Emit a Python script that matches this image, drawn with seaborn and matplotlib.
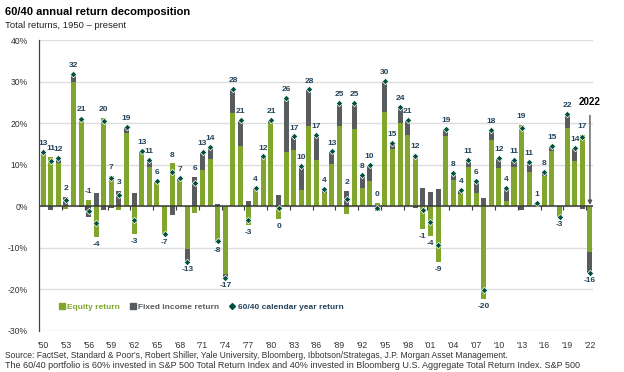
import numpy as np
import pandas as pd
import matplotlib.pyplot as plt
import seaborn as sns
from matplotlib.patches import Patch
from matplotlib.lines import Line2D

# Data (contribution to the 60/40 return, %)
years = list(range(1950, 2023))
equity = [12.8, 11.9, 10.5, -0.6, 30.0, 21.2, 1.5, -7.3, 21.2, 7.2,
          -1.0, 17.7, -6.6, 12.9, 9.4, 5.8, -6.8, 10.3, 6.2, -10.2,
          -1.5, 8.7, 11.4, -8.8, -16.3, 22.4, 14.4, -4.4, 4.0, 11.4,
          20.0, -3.0, 13.1, 13.5, 3.9, 19.2, 11.1, 3.2, 10.1, 19.2,
          -1.9, 18.5, 4.5, 6.1, 0.8, 22.8, 13.8, 20.0, 17.2, 12.3,
          -5.5, -7.2, -13.3, 17.0, 6.3, 3.0, 9.5, 3.3, -22.2, 15.9,
          9.1, 1.3, 9.5, 19.6, 8.3, 0.6, 7.2, 13.2, -2.6, 18.8,
          11.0, 17.2, -10.9]
fixed_income = [0.3, -1.0, 1.1, 2.2, 1.9, -0.2, -2.6, 3.3, -0.8, -0.3,
                3.7, 1.4, 3.2, 0.4, 1.7, 0.2, 0.1, -2.0, 0.6, -3.1,
                7.0, 4.4, 2.8, 0.5, -0.9, 5.8, 6.4, 1.2, 0.5, 0.6,
                0.8, 2.7, 12.9, 3.3, 5.9, 8.9, 6.1, 1.0, 3.1, 5.7,
                3.6, 6.4, 3.1, 3.9, -1.2, 7.3, 1.4, 3.8, 3.5, -0.3,
                4.5, 3.4, 4.1, 1.6, 1.7, 1.0, 1.7, 2.8, 2.1, 2.4,
                2.6, 3.1, 1.7, -0.8, 2.4, 0.2, 1.1, 1.4, 0.0, 3.5,
                3.0, -0.6, -5.2]
labels = [13, 11, 12, 2, 32, 21, -1, -4, 20, 7,
          3, 19, -3, 13, 11, 6, -7, 8, 7, -13,
          6, 13, 14, -8, -17, 28, 21, -3, 4, 12,
          21, 0, 26, 17, 10, 28, 17, 4, 13, 25,
          2, 25, 8, 10, 0, 30, 15, 24, 21, 12,
          -1, -4, -9, 19, 8, 4, 11, 6, -20, 18,
          12, 4, 11, 19, 11, 1, 8, 15, -3, 22,
          14, 17, -16]

green = '#80a62e'
gray = '#595c5f'
dkgreen = '#00513d'
label_col = '#24435a'

df = pd.DataFrame({'year': years, 'equity': equity, 'fixed': fixed_income, 'label': labels})
df['total'] = df['equity'] + df['fixed']
same = np.sign(df['equity']) == np.sign(df['fixed'])
# gray bar drawn from 0 (green covers the lower part when signs agree)
df['fixed_top'] = np.where(same, df['total'], df['fixed'])
df['top'] = df['equity'].clip(lower=0) + df['fixed'].clip(lower=0)
df['bottom'] = df['equity'].clip(upper=0) + df['fixed'].clip(upper=0)

sns.set_theme(style='white')
plt.rcParams['font.family'] = ['Liberation Sans', 'DejaVu Sans']

fig = plt.figure(figsize=(6.24, 3.72), dpi=100)
ax = fig.add_axes([39 / 624, 1 - 331 / 372, 554 / 624, 291 / 372])

sns.barplot(data=df, x='year', y='fixed_top', native_scale=True, color=gray,
            saturation=1, width=0.66, linewidth=0, errorbar=None, ax=ax, zorder=2)
sns.barplot(data=df, x='year', y='equity', native_scale=True, color=green,
            saturation=1, width=0.66, linewidth=0, errorbar=None, ax=ax, zorder=3)
sns.scatterplot(data=df, x='year', y='total', marker='D', s=11, color=dkgreen,
                edgecolor='white', linewidth=0.5, ax=ax, zorder=5, legend=False)

for _, r in df.iterrows():
    txt = str(int(r['label']))
    if r['total'] > 0 or r['equity'] > 0:
        ax.annotate(txt, (r['year'], r['top']), xytext=(0, 3.5),
                    textcoords='offset points', ha='center', va='bottom',
                    fontsize=6, fontweight='bold', color=label_col, zorder=6)
    else:
        ax.annotate(txt, (r['year'], r['bottom']), xytext=(0, -3),
                    textcoords='offset points', ha='center', va='top',
                    fontsize=6, fontweight='bold', color=label_col, zorder=6)

ax.annotate('2022', xy=(2022, 0.3), xytext=(2022, 25.2), ha='center', va='center',
            fontsize=7, fontweight='bold', color='black',
            arrowprops=dict(arrowstyle='-|>', color='#555555', lw=1.0,
                            shrinkA=4, shrinkB=0, mutation_scale=6), zorder=6)

ax.axhline(0, color='#3a3a3a', lw=1.1, zorder=4)
tick_marks = [y + 0.5 for y in years[2::3]]
ax.vlines(tick_marks, -0.8, 0, color='#3a3a3a', lw=0.8, zorder=4)

ax.set_xlim(1949.47, 2022.4)
ax.set_ylim(-30, 40)
ax.set_yticks(range(-30, 41, 10))
ax.set_yticklabels([f'{v}%' for v in range(-30, 41, 10)], fontsize=6.2, color='#333333')
ax.set_xticks(years[::3])
ax.set_xticklabels([f"'{str(y)[2:]}" for y in years[::3]], fontsize=6.2, color='#333333')
ax.tick_params(axis='both', length=0)
ax.tick_params(axis='x', pad=7)
ax.tick_params(axis='y', pad=8)
ax.set_xlabel('')
ax.set_ylabel('')
ax.grid(axis='y', color='#dddddd', lw=1.0)
ax.set_axisbelow(True)
for s in ['top', 'right', 'bottom']:
    ax.spines[s].set_visible(False)
ax.spines['left'].set_color('#444444')
ax.spines['left'].set_linewidth(0.9)

handles = [Patch(color=green), Patch(color=gray),
           Line2D([], [], marker='D', ls='', color=dkgreen, markersize=3)]
leg = ax.legend(handles, ['Equity return', 'Fixed income return', '60/40 calendar year return'],
                ncol=3, loc='center left', bbox_to_anchor=(0.022, 0.082), frameon=False,
                handlelength=0.7, handleheight=0.7, handletextpad=0.3, columnspacing=1.2,
                prop={'size': 6, 'weight': 'bold'})
for t, c in zip(leg.get_texts(), [green, gray, label_col]):
    t.set_color(c)

fig.text(5 / 624, 1 - 12 / 372, '60/40 annual return decomposition', fontsize=8,
         fontweight='bold', va='center', color='black')
fig.text(5 / 624, 1 - 25 / 372, 'Total returns, 1950 \u2013 present', fontsize=6.8,
         va='center', color='#222222')
fig.text(5 / 624, 1 - 355 / 372,
         "Source: FactSet, Standard & Poor's, Robert Shiller, Yale University, Bloomberg, "
         "Ibbotson/Strategas, J.P. Morgan Asset Management.",
         fontsize=6.15, va='center', color='#333333')
fig.text(5 / 624, 1 - 366 / 372,
         'The 60/40 portfolio is 60% invested in S&P 500 Total Return Index and 40% invested in '
         'Bloomberg U.S. Aggregate Total Return Index. S&P 500',
         fontsize=6.5, va='center', color='#333333')

fig.savefig('out.png', dpi=100)
